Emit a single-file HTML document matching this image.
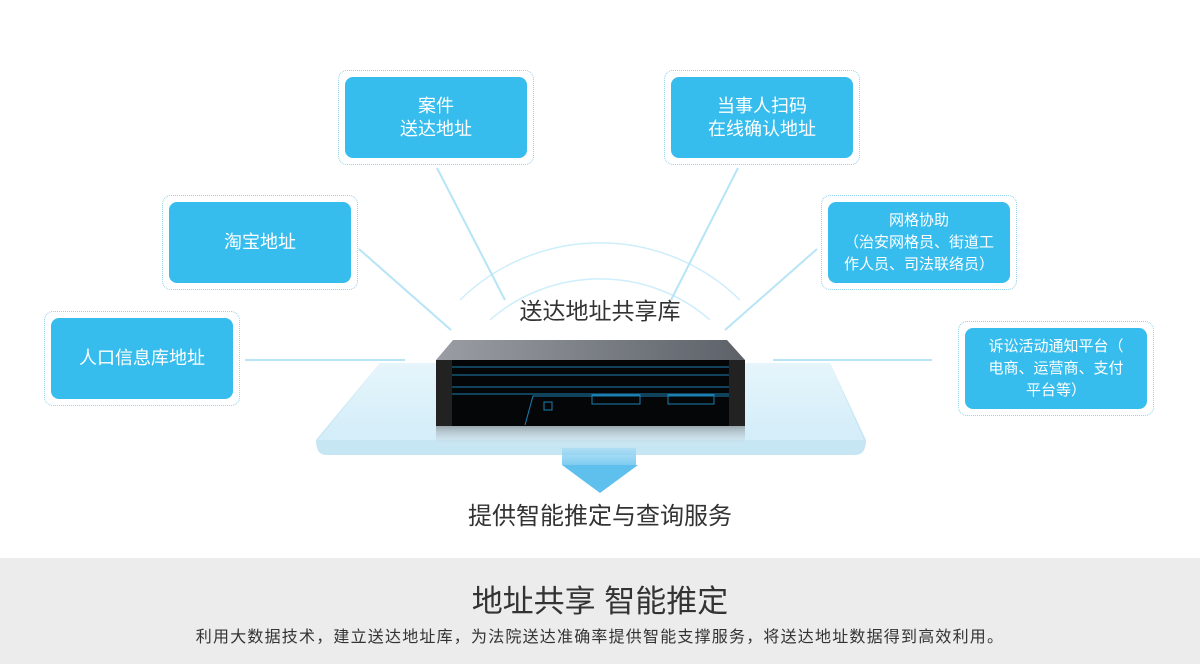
<!DOCTYPE html>
<html><head><meta charset="utf-8"><style>
body{margin:0;width:1200px;height:664px;position:relative;background:#fff;font-family:"Liberation Sans","Noto Sans CJK SC",sans-serif;overflow:hidden}
.o{position:absolute;border:1px dotted #8fd3ee;border-radius:9px;width:194px;height:93px}
.i{position:absolute;background:#36bdee;border-radius:8px;width:182px;height:81px;color:#fff;display:flex;align-items:center;justify-content:center;text-align:center;font-size:18px;line-height:23px}
.t{position:absolute;left:0;width:1200px;text-align:center;color:#333}
</style></head><body>
<svg width="1200" height="560" style="position:absolute;left:0;top:0">
<defs>
<linearGradient id="top" x1="0" x2="1"><stop offset="0" stop-color="#9a9ea4"/><stop offset="1" stop-color="#5d6168"/></linearGradient>
<linearGradient id="plat" x1="0" y1="0" x2="0" y2="1"><stop offset="0" stop-color="#e6f5fb"/><stop offset="1" stop-color="#d3edf9"/></linearGradient>
<linearGradient id="refl" x1="0" y1="0" x2="0" y2="1"><stop offset="0" stop-color="#9aa6ae"/><stop offset="1" stop-color="#dceff8" stop-opacity="0"/></linearGradient>
<linearGradient id="arr" x1="0" y1="0" x2="0" y2="1"><stop offset="0" stop-color="#a9dcf3"/><stop offset="1" stop-color="#5fc0ee"/></linearGradient>
</defs>
<g stroke="#cdeefb" stroke-width="1.5" fill="none">
<path d="M460 300 A200 200 0 0 1 740 300"/>
<path d="M490 320 A160 150 0 0 1 710 320"/>
</g>
<g stroke="#b7e4f6" stroke-width="2" fill="none">
<line x1="437" y1="168" x2="505" y2="300"/>
<line x1="738" y1="168" x2="671" y2="300"/>
<line x1="359" y1="249" x2="451" y2="330"/>
<line x1="817" y1="249" x2="725" y2="330"/>
<line x1="245" y1="360" x2="405" y2="360"/>
<line x1="773" y1="360" x2="932" y2="360"/>
</g>
<path d="M380 363 L830 363 L866 440 Q866 455 855 455 L326 455 Q316 455 316 440 Z" fill="#c6e6f4"/>
<path d="M380 363 L830 363 L864 440 L318 440 Z" fill="url(#plat)"/>
<rect x="436" y="426" width="309" height="22" fill="url(#refl)"/>
<path d="M453 340 L727 340 L745 360 L436 360 Z" fill="url(#top)"/>
<rect x="436" y="360" width="309" height="66" fill="#050607"/>
<rect x="436" y="360" width="16" height="66" fill="#222"/>
<rect x="729" y="360" width="16" height="66" fill="#222"/>
<g stroke="#1b7fb2" stroke-width="1" fill="none">
<line x1="452" y1="367" x2="729" y2="367"/>
<line x1="452" y1="375" x2="729" y2="375"/>
<line x1="452" y1="387" x2="729" y2="387"/>
<line x1="452" y1="394" x2="729" y2="394"/>
<path d="M525 425 L533 396 L729 396"/>
<rect x="592" y="395" width="48" height="9"/>
<rect x="668" y="395" width="46" height="9"/>
<rect x="544" y="402" width="8" height="8"/>
</g>
<rect x="562" y="448" width="74" height="17" fill="url(#arr)" opacity=".8"/>
<path d="M562 465 L638 465 L600 493 Z" fill="#5fc0ee"/>
</svg>
<div class="o" style="left:338px;top:70px"></div><div class="i" style="left:345px;top:77px">案件<br>送达地址</div>
<div class="o" style="left:664px;top:70px"></div><div class="i" style="left:671px;top:77px">当事人扫码<br>在线确认地址</div>
<div class="o" style="left:162px;top:195px"></div><div class="i" style="left:169px;top:202px">淘宝地址</div>
<div class="o" style="left:821px;top:195px"></div><div class="i" style="left:828px;top:202px;font-size:15px;line-height:22px">网格协助<br>（治安网格员、街道工<br>作人员、司法联络员）</div>
<div class="o" style="left:44px;top:311px"></div><div class="i" style="left:51px;top:318px">人口信息库地址</div>
<div class="o" style="left:958px;top:321px"></div><div class="i" style="left:965px;top:328px;font-size:15px;line-height:22px">诉讼活动通知平台（<br>电商、运营商、支付<br>平台等）</div>
<div class="t" style="top:292px;font-size:23px">送达地址共享库</div>
<div class="t" style="top:496px;font-size:24px">提供智能推定与查询服务</div>
<div style="position:absolute;left:0;top:558px;width:1200px;height:106px;background:#ececec"></div>
<div class="t" style="top:576px;font-size:31px">地址共享 智能推定</div>
<div class="t" style="top:623px;font-size:16px;letter-spacing:1.2px">利用大数据技术，建立送达地址库，为法院送达准确率提供智能支撑服务，将送达地址数据得到高效利用。</div>
</body></html>
